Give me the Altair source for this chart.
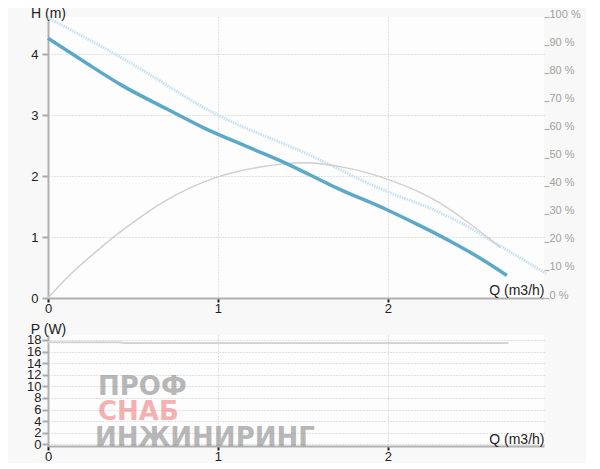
import altair as alt
import pandas as pd

# ---- data ----
q_head = [0, 0.2, 0.44, 0.7, 0.91, 1.2, 1.4, 1.71, 2.0, 2.2, 2.38, 2.55, 2.70]
head = [4.26, 3.90, 3.48, 3.10, 2.80, 2.45, 2.21, 1.79, 1.44, 1.17, 0.91, 0.64, 0.37]

q_max = [0, 0.44, 1.0, 1.52, 2.0, 2.25, 2.45, 2.65, 2.93]
head_max = [4.60, 3.93, 3.00, 2.37, 1.74, 1.47, 1.20, 0.87, 0.40]

q_eff = [0, 0.1, 0.3, 0.46, 0.69, 1.0, 1.25, 1.5, 1.75, 2.0, 2.3, 2.46, 2.66]
eff = [0, 6.5, 17.4, 25.1, 34.6, 43.1, 46.6, 48.1, 46.4, 42.2, 34.0, 27.4, 18.0]

q_pow = [0, 0.42, 0.45, 2.71]
power = [17.6, 17.6, 17.5, 17.5]

x_ticks = [0, 1, 2]
h_ticks = [0, 1, 2, 3, 4]
eff_ticks = [0, 10, 20, 30, 40, 50, 60, 70, 80, 90, 100]
p_ticks = [0, 2, 4, 6, 8, 10, 12, 14, 16, 18]

FONT = "Liberation Sans"
W = 496
df_head = pd.DataFrame({"Q": q_head, "H": head})
df_max = pd.DataFrame({"Q": q_max, "H": head_max})
df_eff = pd.DataFrame({"Q": q_eff, "E": eff})
df_pow = pd.DataFrame({"Q": q_pow, "P": power})

xscale = alt.Scale(domain=[0, 2.918], nice=False, zero=False)


def x_axis(title_y):
    return alt.Axis(values=x_ticks, title="Q (m3/h)", titleX=W, titleY=title_y,
                    titleAlign="right", titleBaseline="alphabetic", titleAngle=0,
                    titleFontSize=14, titleFontWeight="normal", titleColor="#222",
                    grid=True, gridDash=[1, 2], gridColor="#c4c4c4",
                    tickColor="#222", tickWidth=2, tickSize=4,
                    domainColor="#b0b0b0", domainWidth=2,
                    labelPadding=0, labelFontSize=13, labelColor="#222",
                    labelFlush=False, labelOverlap=False, format="d")


h_scale = alt.Scale(domain=[0, 4.61], nice=False, zero=False)
h_axis = alt.Axis(values=h_ticks, title="H (m)", titleX=0, titleY=0, titleAlign="center",
                  titleBaseline="alphabetic", titleAngle=0, titleFontSize=14,
                  titleFontWeight="normal", titleColor="#222",
                  grid=True, gridDash=[1, 2], gridColor="#c4c4c4",
                  tickColor="#aaa", tickWidth=2, tickSize=6,
                  domainColor="#b0b0b0", domainWidth=2,
                  labelPadding=4, labelFontSize=13, labelColor="#222",
                  labelOverlap=False, labelFlush=False)

max_line = alt.Chart(df_max).mark_line(color="#c6e1f2", strokeWidth=3, strokeDash=[1.5, 1],
                                       interpolate="monotone").encode(
    x=alt.X("Q:Q", scale=xscale, axis=x_axis(-4)),
    y=alt.Y("H:Q", scale=h_scale, axis=h_axis),
)
head_line = alt.Chart(df_head).mark_line(color="#5aa9c7", strokeWidth=3.5,
                                         interpolate="monotone").encode(
    x=alt.X("Q:Q", scale=xscale),
    y=alt.Y("H:Q", scale=h_scale, axis=None),
)
eff_line = alt.Chart(df_eff).mark_line(color="#cfcfcf", strokeWidth=1.5,
                                       interpolate="monotone").encode(
    x=alt.X("Q:Q", scale=xscale),
    y=alt.Y("E:Q", scale=alt.Scale(domain=[0, 100], nice=False),
            axis=alt.Axis(orient="right", values=eff_ticks, title=None,
                          labelExpr="datum.value + ' %'", labelBaseline="alphabetic",
                          labelPadding=0, labelFontSize=11, labelColor="#a0a0a0",
                          tickColor="#b0b0b0", tickSize=5, tickWidth=1.2,
                          domain=False, grid=False, labelOverlap=False,
                          labelFlush=False)),
)

top = alt.layer(max_line, eff_line, head_line).resolve_scale(y="independent").properties(
    width=W, height=281)

p_scale = alt.Scale(domain=[-0.28, 18.86], nice=False, zero=False)
p_axis = alt.Axis(values=p_ticks, title="P (W)", titleX=0, titleY=-2, titleAlign="center",
                  titleBaseline="alphabetic", titleAngle=0, titleFontSize=14,
                  titleFontWeight="normal", titleColor="#222",
                  grid=True, gridDash=[1, 2], gridColor="#c4c4c4",
                  tickColor="#aaa", tickWidth=2, tickSize=6,
                  domainColor="#b0b0b0", domainWidth=2,
                  labelPadding=1, labelFontSize=13, labelColor="#222",
                  labelOverlap=False, labelFlush=False)

pow_line = alt.Chart(df_pow).mark_line(color="#d4d4d4", strokeWidth=2).encode(
    x=alt.X("Q:Q", scale=xscale, axis=x_axis(-3)),
    y=alt.Y("P:Q", scale=p_scale, axis=p_axis),
)

wm = pd.DataFrame({"t": [0]})
wm1 = alt.Chart(wm).mark_text(text="ПРОФ", font="DejaVu Sans", fontWeight="bold", fontSize=26,
                              align="left", baseline="alphabetic", color="#8a8a8a",
                              opacity=0.6).encode(x=alt.value(50), y=alt.value(60))
wm2 = alt.Chart(wm).mark_text(text="СНАБ", font="DejaVu Sans", fontWeight="bold", fontSize=26,
                              align="left", baseline="alphabetic", color="#ef7f7f",
                              opacity=0.6).encode(x=alt.value(50), y=alt.value(85))
wm3 = alt.Chart(wm).mark_text(text="ИНЖИНИРИНГ", font="DejaVu Sans", fontWeight="bold",
                              fontSize=26, align="left", baseline="alphabetic",
                              color="#8a8a8a", opacity=0.6).encode(x=alt.value(47), y=alt.value(111))

bottom = alt.layer(pow_line, wm1, wm2, wm3).properties(width=W, height=111)

chart = alt.vconcat(top, bottom, spacing=7).properties(
    background="#f8f8f8",
    padding={"left": 18, "top": -2, "right": 5, "bottom": 0},
).configure_view(stroke=None, fill="#fdfdfd").configure_axis(
    labelFont=FONT, titleFont=FONT)

chart.save("out.html", embed_options={"renderer": "svg", "actions": False})
